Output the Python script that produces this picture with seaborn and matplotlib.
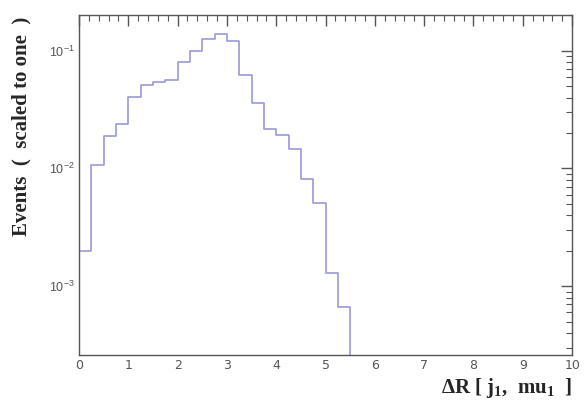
import numpy as np
import pandas as pd
import matplotlib
matplotlib.use("Agg")
import matplotlib.pyplot as plt
import seaborn as sns
from matplotlib.ticker import MultipleLocator, LogLocator, FixedLocator, NullFormatter

# Data: normalized histogram of Delta R, bin width 0.25
bin_edges = [0.0, 0.25, 0.5, 0.75, 1.0, 1.25, 1.5, 1.75, 2.0, 2.25, 2.5, 2.75,
             3.0, 3.25, 3.5, 3.75, 4.0, 4.25, 4.5, 4.75, 5.0, 5.25, 5.5, 5.75]
bin_values = [0.0020, 0.0106, 0.0190, 0.0240, 0.0406, 0.0508, 0.0543, 0.0560,
              0.0796, 0.0987, 0.1256, 0.1380, 0.1200, 0.0622, 0.0360, 0.0218,
              0.0194, 0.0147, 0.0081, 0.00505, 0.00128, 0.00066, 0.0]
x_ticks = [0, 1, 2, 3, 4, 5, 6, 7, 8, 9, 10]
y_ticks = [1e-3, 1e-2, 1e-1]
y_tick_labels = [r"$\mathsf{10^{-3}}$", r"$\mathsf{10^{-2}}$", r"$\mathsf{10^{-1}}$"]

edges = np.array(bin_edges)
centers = (edges[:-1] + edges[1:]) / 2
df = pd.DataFrame({"dR": centers, "w": bin_values})

sns.set_style("white")
plt.rcParams.update({
    "mathtext.fontset": "custom",
    "mathtext.rm": "Liberation Serif:bold",
    "mathtext.it": "Liberation Serif:bold:italic",
    "mathtext.bf": "Liberation Serif:bold",
    "mathtext.sf": "Liberation Sans",
})

fig = plt.figure(figsize=(5.85, 4.05), dpi=100)
ax = fig.add_axes([0.135, 0.123, 0.843, 0.840])

sns.histplot(data=df, x="dR", weights="w", bins=list(bin_edges), element="step",
             fill=False, color="#9a9ad8", linewidth=1.2, ax=ax)

ax.set_yscale("log", nonpositive="clip")
ax.set_xlim(0, 10)
ax.set_ylim(2.59e-4, 0.201)

frame_col = "#555555"
for sp in ax.spines.values():
    sp.set_color(frame_col)
    sp.set_linewidth(1.0)
    sp.set_visible(True)

ax.xaxis.set_major_locator(FixedLocator(x_ticks))
ax.xaxis.set_minor_locator(MultipleLocator(0.2))
ax.yaxis.set_major_locator(FixedLocator(y_ticks))
ax.yaxis.set_minor_locator(LogLocator(base=10, subs=np.arange(2, 10) * 1.0, numticks=20))
ax.yaxis.set_minor_formatter(NullFormatter())
ax.set_yticklabels(y_tick_labels)
ax.set_xticklabels([str(t) for t in x_ticks])

ax.tick_params(which="both", direction="in", top=True, right=True,
               color=frame_col, labelcolor="#555555", labelsize=9)
ax.tick_params(which="major", length=8, width=1.0, pad=3)
ax.tick_params(which="minor", length=4, width=0.8)

ax.set_xlabel(r"ΔR [ j$_{1}$,  mu$_{1}$  ]", family="Liberation Serif",
              fontweight="bold", fontsize=15, loc="right")
ax.set_ylabel("Events  (  scaled to one  )", family="Liberation Serif",
              fontweight="bold", fontsize=15, loc="top")
ax.xaxis.set_label_coords(1.0, -0.062)
ax.yaxis.set_label_coords(-0.097, 0.995)

fig.savefig("out.png", dpi=100)
